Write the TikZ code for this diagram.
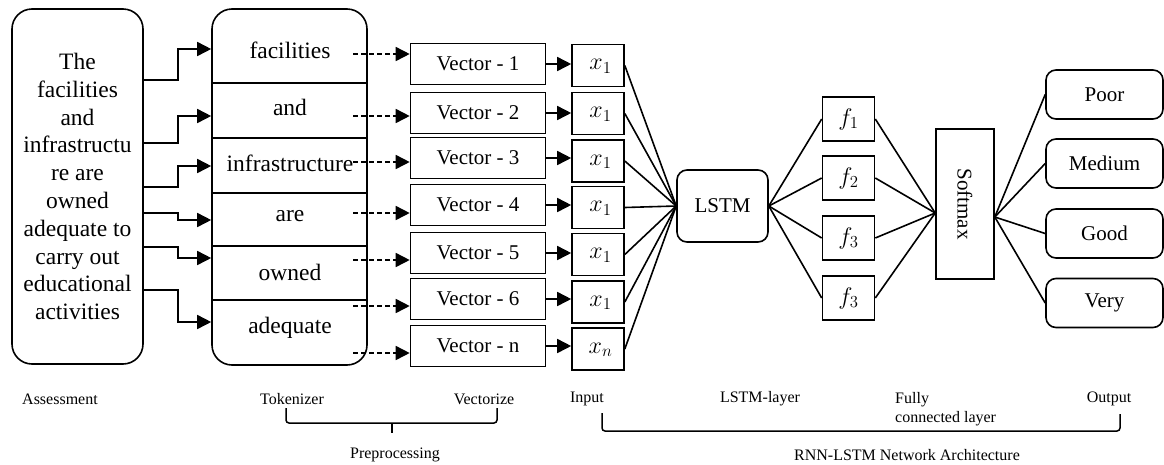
\RequirePackage{fix-cm}
\documentclass[tikz,border=0pt]{standalone}
\usepackage{fontspec}
\setmainfont{Liberation Serif}
\usetikzlibrary{arrows.meta,positioning}

\tikzset{
    % plain box with text (vectors, inputs, f-nodes)
    box/.style={
        draw, line width=1.6pt, inner sep=0pt,
        font=\fontsize{21}{24}\selectfont
    },
    % rounded variants
    roundbox/.style={box, rounded corners=10pt},
    bigbox/.style={box, rounded corners=20pt},
    vecbox/.style={box, minimum width=135pt, minimum height=41pt},
    inbox/.style={box, minimum width=52pt, minimum height=42pt, font=\fontsize{24}{26}\selectfont},
    fbox/.style={box, minimum width=52pt, minimum height=44pt, font=\fontsize{24}{26}\selectfont},
    outbox/.style={roundbox, minimum width=117pt, minimum height=49pt},
    % words of the tokenizer
    tokword/.style={inner sep=0pt, font=\fontsize{23.5}{27}\selectfont},
    % captions under the diagram
    caption/.style={inner sep=0pt, font=\fontsize{16}{19}\selectfont},
    % connectors
    link/.style={line width=1.6pt},
    arr/.style={line width=1.6pt, -{Triangle[length=14pt,width=14pt]}},
    dasharr/.style={arr, dash pattern=on 5pt off 3pt},
    brace/.style={line width=1.5pt, rounded corners=3pt},
}

\begin{document}
\begin{tikzpicture}[x=1pt,y=-1pt]
  \useasboundingbox (0,0) rectangle (1164,464);

  % --- assessment text ---
  \node[bigbox, minimum width=131pt, minimum height=355pt, align=center,
        font=\fontsize{23.5}{27.8}\selectfont] (A) at (77.5,186.5)
        {The\\facilities\\and\\infrastructu\\re are\\owned\\adequate to\\carry out\\educational\\activities};

  % --- tokenizer ---
  \node[bigbox, minimum width=155pt, minimum height=356pt] (T) at (289.5,187) {};
  \foreach \y in {83,138,193,246,300}
    \draw[line width=1.6pt] (T.west |- 0,\y) -- (T.east |- 0,\y);
  \foreach \i/\y/\w in {1/50/facilities,2/107/and,3/163/infrastructure,
                        4/216/are,5/272/owned,6/328/adequate}
    \node[tokword] (T\i) at (290,\y) {\w};

  % assessment -> tokenizer (elbow arrows)
  \foreach \i/\ys/\ye in {1/80/49,2/143/116,3/187/166,4/213/220,5/247/258,6/290/322}{
    \coordinate (S\i) at (A.east |- 0,\ys);
    \coordinate (E\i) at (T.west |- 0,\ye);
    \draw[arr] (S\i) -- ++(34,0) |- (E\i);
  }

  % --- vectors ---
  \foreach \i/\y/\s in {1/64/1,2/113/2,3/158/3,4/205/4,5/253/5,6/299/6,7/346/n}
    \node[vecbox] (V\i) at (478,\y) {Vector - \s};

  % tokenizer -> vectors (dashed)
  \foreach \i/\y in {1/54,2/116,3/162,4/213,5/260,6/306,7/353}{
    \coordinate (D\i) at (353,\y);
    \draw[dasharr] (D\i) -- (D\i -| V\i.west);
  }

  % --- inputs ---
  \foreach \i/\y/\s in {1/65.5/1,2/113.5/1,3/161/1,4/207.5/1,5/254.5/1,6/302/1,7/349/n}
    \node[inbox, text depth=2pt, align=center] (X\i) at (598,\y) {\hspace{5pt}$x_{\s}$};
  \foreach \i in {1,...,7}
    \draw[arr] (V\i.east) -- (V\i.east -| X\i.west);

  % --- LSTM layer ---
  \node[roundbox, minimum width=91pt, minimum height=72pt] (L) at (722.5,206) {LSTM};
  \foreach \i in {1,...,7}
    \draw[link] (X\i.east) -- (L.west);

  % --- fully connected ---
  \foreach \i/\y/\s in {1/119/1,2/178/2,3/238/3,4/298/3}
    \node[fbox] (F\i) at (848.5,\y) {$f_{\s}$};

  \node[box, rotate=-90, minimum width=150pt, minimum height=58pt] (SM) at (965,204) {Softmax};
  \foreach \i in {1,...,4}{
    \draw[link] (L.east) -- (F\i.west);
    \draw[link] (F\i.east) -- ([yshift=-9pt]SM.south);
  }

  % --- output ---
  \foreach \i/\y/\w in {1/94.5/Poor,2/163.5/Medium,3/233.5/Good,4/303/Very}{
    \node[outbox] (O\i) at (1104.5,\y) {\w};
    \draw[link] ([yshift=-13pt]SM.north) -- (O\i.west);
  }

  % --- captions ---
  \node[caption] (cAss) at (60,399) {Assessment};
  \node[caption] (cTok) at (292,399) {Tokenizer};
  \node[caption] (cVec) at (484,399) {Vectorize};
  \node[caption] (cIn) at (587,399) {Input};
  \node[caption] (cLstm) at (760,399) {LSTM-layer};
  \node[caption, anchor=west, align=left, font=\fontsize{16}{19}\selectfont] (cFc) at (895,409)
        {Fully\\connected layer};
  \node[caption] (cOut) at (1109,399) {Output};

  % brackets
  \draw[brace] (286,408) -- (286,423) -- (497,423) -- (497,408);
  \draw[brace] (392,423) -- (392,433);
  \node[caption] (cPre) at (395,455) {Preprocessing};
  \draw[brace] (602,413) -- (602,431) -- (1120,431) -- (1120,414);
  \node[caption] (cRnn) at (907,455) {RNN-LSTM Network Architecture};
\end{tikzpicture}
\end{document}
